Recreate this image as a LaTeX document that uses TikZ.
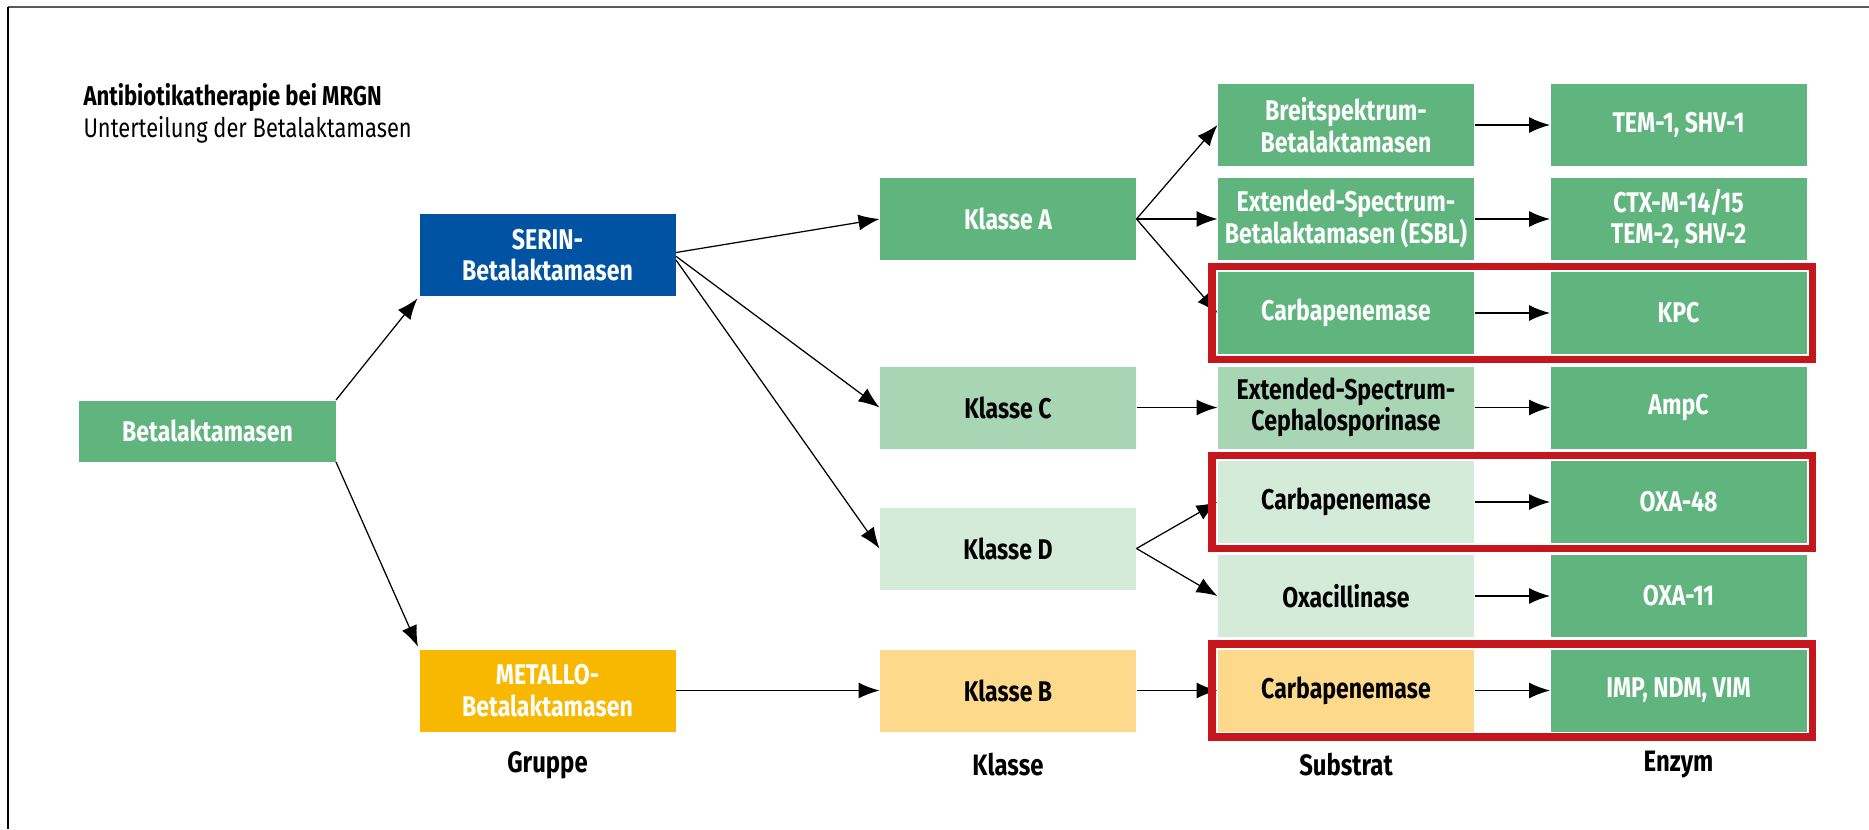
\documentclass[tikz,border=0pt]{standalone}
\usepackage{fontspec}
\setmainfont{Fira Sans}[FakeStretch=0.81]
\usetikzlibrary{arrows.meta,fit}
\definecolor{dgreen}{HTML}{60B57E}
\definecolor{mgreen}{HTML}{A8D5B3}
\definecolor{lgreen}{HTML}{D4EBD9}
\definecolor{sblue}{HTML}{0052A3}
\definecolor{myellow}{HTML}{F9B800}
\definecolor{lyellow}{HTML}{FDD98B}
\definecolor{fred}{HTML}{C5161D}
\begin{document}
\begin{tikzpicture}[x=0.4pt,y=-0.4pt,
  box/.style={minimum width=102.4pt,minimum height=32.8pt,inner sep=0pt,align=center,
    font=\bfseries\fontsize{11.4}{12.6}\selectfont,text=white},
  lbox/.style={box,text=black},
  lab/.style={font=\bfseries\fontsize{11.8}{12.6}\selectfont,text=black,inner sep=0pt},
  arr/.style={-{Latex[length=8.4pt,width=6.4pt]},line width=0.5pt,black},
  frame/.style={draw=fred,line width=3.1pt,inner xsep=2.2pt,inner ysep=2pt,fill=none}
]
\useasboundingbox (0,0) rectangle (1869,829);
\fill[white] (0,0) rectangle (1869,829);
\draw[line width=0.6pt,black!65] (8,7) -- (1869,7);
\draw[line width=0.7pt,black] (8,7) -- (8,829);

% title
\node[anchor=base west,inner sep=0pt,font=\bfseries\fontsize{10.9}{12}\selectfont] (title) at (83,105) {Antibiotikatherapie bei MRGN};
\node[anchor=base west,inner sep=0pt,font=\fontsize{10.8}{12}\selectfont] (subtitle) at (83,137) {Unterteilung der Betalaktamasen};

% group column
\node[box,fill=dgreen,minimum height=24.4pt] (beta) at (207.5,431) {Betalaktamasen};
\node[box,fill=sblue] (serin) at (547.5,255) {SERIN-\\Betalaktamasen};
\node[box,fill=myellow] (metallo) at (547.5,690.5) {METALLO-\\Betalaktamasen};

% class column
\node[box,fill=dgreen] (klA) at (1008,219) {Klasse A};
\node[lbox,fill=mgreen] (klC) at (1008,407.5) {Klasse C};
\node[lbox,fill=lgreen] (klD) at (1008,548.5) {Klasse D};
\node[lbox,fill=lyellow] (klB) at (1008,690.5) {Klasse B};

% substrate column
\node[box,fill=dgreen] (breit) at (1346,125) {Breitspektrum-\\Betalaktamasen};
\node[box,fill=dgreen] (esbl) at (1346,219) {Extended-Spectrum-\\Betalaktamasen (ESBL)};
\node[box,fill=dgreen] (carbA) at (1346,313) {Carbapenemase};
\node[lbox,fill=mgreen] (ceph) at (1346,407.5) {Extended-Spectrum-\\Cephalosporinase};
\node[lbox,fill=lgreen] (carbD) at (1346,502) {Carbapenemase};
\node[lbox,fill=lgreen] (oxa) at (1346,596) {Oxacillinase};
\node[lbox,fill=lyellow] (carbB) at (1346,690.5) {Carbapenemase};

% enzyme column
\node[box,fill=dgreen] (tem) at (1678.5,125) {TEM-1, SHV-1};
\node[box,fill=dgreen] (ctx) at (1678.5,219) {CTX-M-14/15\\TEM-2, SHV-2};
\node[box,fill=dgreen] (kpc) at (1678.5,313) {KPC};
\node[box,fill=dgreen] (ampc) at (1678.5,407.5) {AmpC};
\node[box,fill=dgreen] (oxa48) at (1678.5,502) {OXA-48};
\node[box,fill=dgreen] (oxa11) at (1678.5,596) {OXA-11};
\node[box,fill=dgreen] (imp) at (1678.5,690.5) {IMP, NDM, VIM};

% column labels
\node[lab] (lgruppe) at (547.5,765) {Gruppe};
\node[lab] (lklasse) at (1008,765) {Klasse};
\node[lab] (lsubstrat) at (1346,765) {Substrat};
\node[lab] (lenzym) at (1678.5,765) {Enzym};

% arrows
\draw[arr,shorten >=1pt] (beta.north east) -- (serin.south west);
\draw[arr,shorten >=1pt] (beta.south east) -- (metallo.north west);
\draw[arr] ([yshift=1pt]serin.east) -- (klA.west);
\draw[arr] ([yshift=-0.5pt]serin.east) -- (klC.west);
\draw[arr] ([yshift=-2pt]serin.east) -- (klD.west);
\draw[arr] (metallo.east) -- (klB.west);
\draw[arr] (klA.east) -- (breit.west);
\draw[arr] (klA.east) -- (esbl.west);
\draw[arr] (klA.east) -- (carbA.west);
\draw[arr] (klC.east) -- (ceph.west);
\draw[arr] (klD.east) -- (carbD.west);
\draw[arr] (klD.east) -- (oxa.west);
\draw[arr] (klB.east) -- (carbB.west);
\draw[arr] (breit.east) -- (tem.west);
\draw[arr] (esbl.east) -- (ctx.west);
\draw[arr] (carbA.east) -- (kpc.west);
\draw[arr] (ceph.east) -- (ampc.west);
\draw[arr] (carbD.east) -- (oxa48.west);
\draw[arr] (oxa.east) -- (oxa11.west);
\draw[arr] (carbB.east) -- (imp.west);

% red frames
\node[frame,fit=(carbA)(kpc)] (fA) {};
\node[frame,fit=(carbD)(oxa48)] (fD) {};
\node[frame,fit=(carbB)(imp)] (fB) {};
\end{tikzpicture}
\end{document}
